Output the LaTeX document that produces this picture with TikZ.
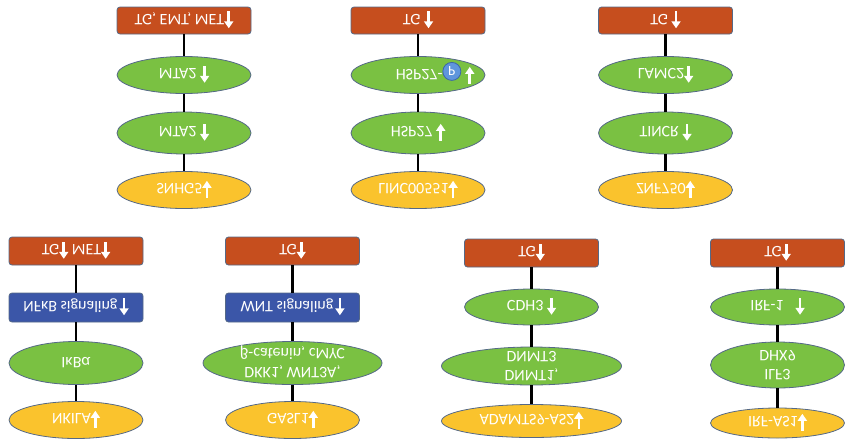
\documentclass[tikz,border=0pt]{standalone}
\usepackage{fontspec}
\setmainfont{Carlito}
\usetikzlibrary{shapes.geometric,arrows.meta}
\definecolor{tgred}{RGB}{198,78,30}
\definecolor{ggreen}{RGB}{122,193,66}
\definecolor{lyellow}{RGB}{250,195,45}
\definecolor{sigblue}{RGB}{59,86,168}
\definecolor{edge}{RGB}{85,105,135}
\definecolor{pblue}{RGB}{95,150,220}
\definecolor{pedge}{RGB}{60,100,170}
\newcommand{\flip}[1]{\smash{\raisebox{\dimexpr(\depth-\height)/2+1.4pt\relax}{\scalebox{1}[-1]{\begin{tabular}{@{}c@{}}#1\end{tabular}}}}}
\newcommand{\upar}{\tikz[baseline=0pt]\draw[white,line width=2.6pt,-{Triangle[length=7pt,width=9pt]}] (0,-3pt)--(0,14pt);}
\newcommand{\dnar}{\tikz[baseline=0pt]\draw[white,line width=2.6pt,-{Triangle[length=7pt,width=9pt]}] (0,14pt)--(0,-3pt);}
\newcommand{\phos}{\tikz[baseline=-1.5pt]\node[circle,fill=pblue,draw=pedge,line width=0.8pt,inner sep=0pt,minimum size=18pt,text=white,font=\fontsize{14}{14}\selectfont] {P};}
\begin{document}
\begin{tikzpicture}[x=1pt, y=-1pt,
  link/.style={line width=2.6pt},
  box/.style={rectangle, rounded corners=3pt, draw=edge, line width=0.8pt, minimum width=134pt, minimum height=27pt, inner sep=0pt, text=white, font=\fontsize{16}{19}\selectfont},
  tgbox/.style={box, fill=tgred},
  sigbox/.style={box, fill=sigblue, minimum height=29pt},
  gene/.style={ellipse, draw=edge, line width=0.8pt, fill=ggreen, minimum width=134pt, minimum height=37pt, inner sep=0pt, text=white, font=\fontsize{16}{19}\selectfont},
  lnc/.style={gene, fill=lyellow}]
\useasboundingbox (0,0) rectangle (850,447);

\node[tgbox] (tg1) at (184,20.5) {\flip{TG, EMT, MET\upar}};
\node[gene] (mta2a) at (184,75) {\flip{MTA2 \upar}};
\node[gene, minimum height=42pt] (mta2b) at (184,133) {\flip{MTA2 \upar}};
\node[lnc] (snhg5) at (184,190) {\flip{SNHG5\dnar}};
\draw[link] (tg1)--(mta2a) (mta2a)--(mta2b) (mta2b)--(snhg5);

\node[tgbox] (tg2) at (418,20.5) {\flip{TG \upar}};
\node[gene] (hspp) at (418,75) {\makebox[0pt]{\flip{\hspace*{34pt}HSP27-\phos\hspace{4pt}\dnar}}};
\node[gene, minimum height=42pt] (hsp) at (418,133) {\flip{HSP27 \dnar}};
\node[lnc] (linc) at (418,190) {\flip{LINC00551\dnar}};
\draw[link] (tg2)--(hspp) (hspp)--(hsp) (hsp)--(linc);

\node[tgbox] (tg3) at (665.5,20.5) {\flip{TG \upar}};
\node[gene] (lamc2) at (665.5,75) {\flip{LAMC2\upar}};
\node[gene, minimum height=42pt] (tincr) at (665.5,133) {\flip{TINCR \upar}};
\node[lnc] (znf) at (665.5,190) {\flip{ZNF750\dnar}};
\draw[link] (tg3)--(lamc2) (lamc2)--(tincr) (tincr)--(znf);

\node[tgbox, minimum height=28pt] (tg4) at (76,251) {\flip{TG\upar{} MET\upar}};
\node[sigbox] (nfkb) at (76,307.5) {\flip{NFκB signaling\hspace{2pt}\upar}};
\node[gene, minimum height=43pt] (ikba) at (76,363) {\flip{IκBα}};
\node[lnc] (nkila) at (76,420) {\flip{NKILA\dnar}};
\draw[link] (tg4)--(nfkb) (nfkb)--(ikba) (ikba)--(nkila);

\node[tgbox, minimum height=28pt] (tg5) at (292.5,251) {\flip{TG\upar}};
\node[sigbox] (wnt) at (292.5,307.5) {\flip{WNT signaling\hspace{2pt}\upar}};
\node[gene, minimum width=179pt, minimum height=43pt] (dkk) at (292.5,363) {\flip{DKK1, WNT3A,\\β-catenin, cMYC}};
\node[lnc] (gasl1) at (292.5,420) {\flip{GASL1\dnar}};
\draw[link] (tg5)--(wnt) (wnt)--(dkk) (dkk)--(gasl1);

\node[tgbox, minimum height=28pt] (tg6) at (531.5,253) {\flip{TG\upar}};
\node[gene, minimum height=36pt] (cdh3) at (531.5,307) {\flip{CDH3 \upar}};
\node[gene, minimum width=180pt, minimum height=38pt] (dnmt) at (531.5,366) {\flip{DNMT1,\\DNMT3}};
\node[lnc, minimum width=180pt, minimum height=33pt] (adamts) at (531.5,421) {\flip{ADAMTS9-AS2\dnar}};
\draw[link] (tg6)--(cdh3) (cdh3)--(dnmt) (dnmt)--(adamts);

\node[tgbox, minimum height=28pt] (tg7) at (777.5,253) {\flip{TG\upar}};
\node[gene, minimum height=36pt] (irf1) at (777.5,307) {\flip{IRF-1\hspace{12pt}\upar}};
\node[gene, minimum height=46pt] (ilf3) at (777.5,365) {\flip{ILF3\\DHX9}};
\node[lnc, minimum height=30pt] (irfas) at (777.5,423) {\flip{IRF-AS1\dnar}};
\draw[link] (tg7)--(irf1) (irf1)--(ilf3) (ilf3)--(irfas);
\end{tikzpicture}
\end{document}
